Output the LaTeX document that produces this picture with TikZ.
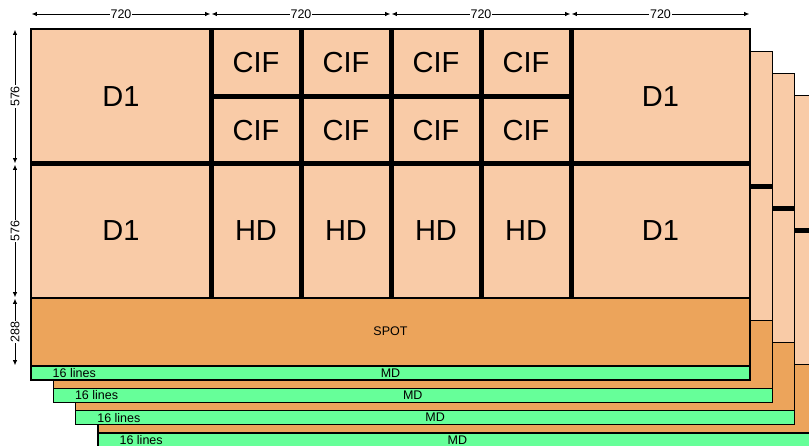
\documentclass[tikz,border=0pt]{standalone}
\usepackage{fontspec}
\setmainfont{Liberation Sans}
\usetikzlibrary{arrows.meta}
\definecolor{peach}{HTML}{F9CBA7}
\definecolor{spotorange}{HTML}{ECA45B}
\definecolor{mdgreen}{HTML}{66FF99}
\newcommand{\bigfont}{\fontsize{29}{32}\selectfont}
\newcommand{\smallfont}{\fontsize{12.5}{14}\selectfont}

\begin{document}
\begin{tikzpicture}[x=1pt,y=-1pt,>={Latex[length=5pt,width=4.5pt]},
  frame/.style={draw=black,line width=1.2pt},
  divider/.style={line width=5pt},
  dim/.style={<->,line width=0.8pt,shorten <=0.8pt,shorten >=0.8pt},
  dimlabel/.style={fill=white,inner sep=1pt,font=\smallfont},
  big/.style={font=\bigfont},
  small/.style={font=\smallfont,inner sep=0pt}]
  \clip (0,0) rectangle (809,446);
  % stacked frames, back to front
  \foreach \k in {3,2,1,0} {
    \begin{scope}[shift={(22.3*\k,22.3*\k)}]
      \fill[peach] (31,29) rectangle (750,298);
      \fill[spotorange] (31,298) rectangle (750,366);
      \fill[mdgreen] (31,366) rectangle (750,380);
      % dividers
      \draw[divider] (31,164) -- (750,164);
      \draw[divider] (211,96.5) -- (571,96.5);
      \foreach \cx in {211,301,391,481,571}
        \draw[divider] (\cx,29) -- (\cx,298);
      \draw[frame] (31,29) rectangle (750,380);
      \draw[frame] (31,298) -- (750,298);
      \draw[frame] (31,366) -- (750,366);
      \node[small,anchor=west] (lines\k) at (52.5,373) {16 lines};
      \node[small] (md\k) at (390.5,373) {MD};
    \end{scope}
  }
  % labels of the front frame
  \node[big] (d1a) at (121,96.5) {D1};
  \node[big] (d1b) at (660.5,96.5) {D1};
  \node[big] (d1c) at (121,231) {D1};
  \node[big] (d1d) at (660.5,231) {D1};
  \foreach \cx [count=\i] in {256,346,436,526} {
    \node[big] (cifa\i) at (\cx,62.75) {CIF};
    \node[big] (cifb\i) at (\cx,130.25) {CIF};
    \node[big] (hd\i) at (\cx,231) {HD};
  }
  \node[small] (spot) at (390.5,331) {SPOT};
  % dimensions
  \foreach \i/\cx in {0/31,1/211,2/391,3/571,4/750}
    \coordinate (top\i) at (\cx,14);
  \foreach \i/\j in {0/1,1/2,2/3,3/4}
    \draw[dim] (top\i) -- node[dimlabel] (w\i) {720} (top\j);
  \coordinate (side0) at (15,29);
  \coordinate (side1) at (15,164);
  \coordinate (side2) at (15,298);
  \coordinate (side3) at (15,366);
  \draw[dim] (side0) -- node[dimlabel,rotate=90] (h0) {576} (side1);
  \draw[dim] (side1) -- node[dimlabel,rotate=90] (h1) {576} (side2);
  \draw[dim] (side2) -- node[dimlabel,rotate=90] (h2) {288} (side3);
\end{tikzpicture}
\end{document}
